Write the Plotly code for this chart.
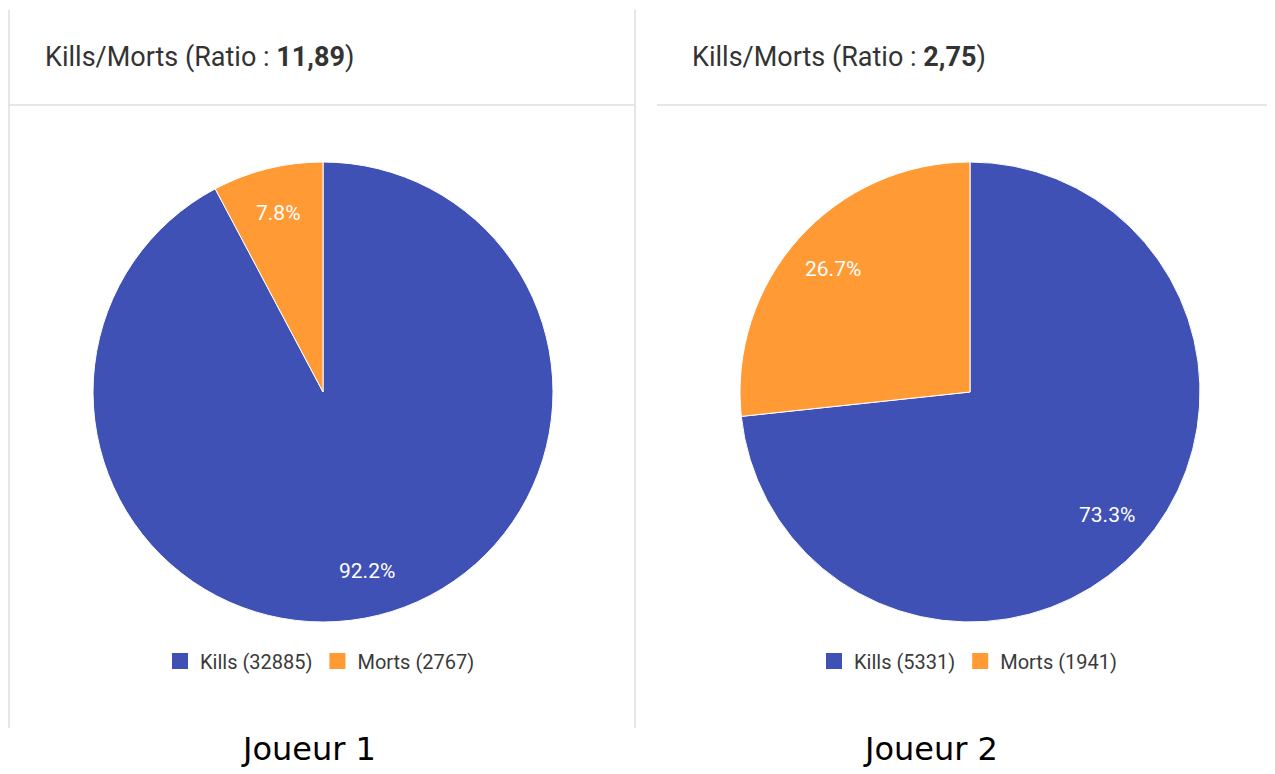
import math
import plotly.graph_objects as go

categories = ["Kills", "Morts"]
player1_values = [32885, 2767]
player2_values = [5331, 1941]
ratios = ["11,89", "2,75"]
players = ["Joueur 1", "Joueur 2"]
colors = ["#3F51B5", "#FF9A35"]

# page body has an 8px margin: work in screen pixels and shift
OFF = 8
W, H = 1275 - OFF, 774 - OFF


def px_x(x):
    return (x - OFF) / W


def px_y(y):
    return 1 - (y - OFF) / H


fig = go.Figure()

pie_specs = [
    (player1_values, 323, "legend"),
    (player2_values, 970, "legend2"),
]
CY, R = 392, 230
annotations = []
for vals, cx, leg in pie_specs:
    labels = [f"{c} ({v})" for c, v in zip(categories, vals)]
    fig.add_trace(go.Pie(
        labels=labels,
        values=vals,
        sort=False,
        direction="clockwise",
        rotation=0,
        marker=dict(colors=colors, line=dict(color="white", width=1)),
        textinfo="none",
        domain=dict(x=[px_x(cx - R), px_x(cx + R)], y=[px_y(CY + R), px_y(CY - R)]),
        showlegend=False,
        hoverinfo="label+percent",
    ))
    # legend entries (square symbols)
    for lab, col in zip(labels, colors):
        fig.add_trace(go.Scatter(
            x=[None], y=[None], mode="markers", name=lab,
            marker=dict(symbol="square", size=16, color=col),
            legend=leg, showlegend=True,
        ))
    # percentage labels at 0.8 R along each slice's mid-angle (Google Charts style)
    total = sum(vals)
    cum = 0
    for v in vals:
        mid = (cum + v / 2) / total * 2 * math.pi
        cum += v
        lx = cx + 0.8 * R * math.sin(mid)
        ly = CY - 0.8 * R * math.cos(mid)
        annotations.append(dict(
            text=f"{v / total * 100:.1f}%",
            xref="paper", yref="paper", x=px_x(lx), y=px_y(ly),
            xanchor="center", yanchor="middle", showarrow=False,
            font=dict(family="Roboto", size=21, color="white"),
        ))

legend_common = dict(
    orientation="h",
    xanchor="center",
    yanchor="middle",
    font=dict(family="Roboto", size=20, color="#3a3a3a"),
    bgcolor="rgba(0,0,0,0)",
    itemclick=False,
    itemwidth=30,
)

shapes = []
line_col = "#e6e6e6"
shapes.append(dict(type="line", xref="paper", yref="paper", x0=px_x(9), x1=px_x(9), y0=px_y(10), y1=px_y(728), line=dict(color=line_col, width=2)))
shapes.append(dict(type="line", xref="paper", yref="paper", x0=px_x(635), x1=px_x(635), y0=px_y(10), y1=px_y(728), line=dict(color=line_col, width=2)))
shapes.append(dict(type="line", xref="paper", yref="paper", x0=px_x(9), x1=px_x(635), y0=px_y(105), y1=px_y(105), line=dict(color=line_col, width=2)))
shapes.append(dict(type="line", xref="paper", yref="paper", x0=px_x(657), x1=px_x(1275), y0=px_y(105), y1=px_y(105), line=dict(color=line_col, width=2)))

title_x = [43, 690]
for r, tx in zip(ratios, title_x):
    annotations.append(dict(
        text=f"Kills/Morts (Ratio : <b>{r}</b>)",
        xref="paper", yref="paper", x=px_x(tx), y=px_y(57),
        xanchor="left", yanchor="middle", showarrow=False,
        font=dict(family="Roboto", size=27, color="#333333"),
    ))
player_x = [308, 930]
for p, pxx in zip(players, player_x):
    annotations.append(dict(
        text=p,
        xref="paper", yref="paper", x=px_x(pxx), y=px_y(770),
        xanchor="center", yanchor="bottom", showarrow=False,
        font=dict(family="DejaVu Sans", size=32, color="#000000"),
    ))

fig.update_layout(
    width=W, height=H,
    margin=dict(l=0, r=0, t=0, b=0),
    paper_bgcolor="white",
    plot_bgcolor="white",
    xaxis=dict(visible=False, domain=[0, 0.01]),
    yaxis=dict(visible=False, domain=[0, 0.01]),
    legend=dict(x=px_x(320), y=px_y(661), **legend_common),
    legend2=dict(x=px_x(968), y=px_y(661), **legend_common),
    shapes=shapes,
    annotations=annotations,
)

fig.write_html("out.html")
